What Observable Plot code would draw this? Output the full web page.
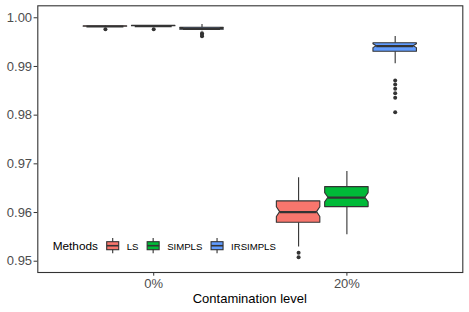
<!DOCTYPE html>
<html><head><meta charset="utf-8">
<script src="https://cdn.jsdelivr.net/npm/d3@7"></script>
<script src="https://cdn.jsdelivr.net/npm/@observablehq/plot@0.6"></script>
<style>body{margin:0;background:#fff} svg{display:block}</style>
</head><body><div id="chart"></div>
<script>
// ---- data ----
const levels = ["0%", "20%"];
const methods = ["LS", "SIMPLS", "IRSIMPLS"];
const methodColors = ["#F8766D", "#00BA38", "#619CFF"];
const yTicks = [0.95, 0.96, 0.97, 0.98, 0.99, 1.00];

// one entry per box: level-major, method-minor
const groupLevel  = ["0%", "0%", "0%", "20%", "20%", "20%"];
const groupMethod = ["LS", "SIMPLS", "IRSIMPLS", "LS", "SIMPLS", "IRSIMPLS"];
const whiskerLow  = [0.99808, 0.99818, 0.99735, 0.95290, 0.95544, 0.99055];
const q1          = [0.99816, 0.99825, 0.99755, 0.95791, 0.96111, 0.99302];
const median      = [0.99821, 0.99830, 0.99774, 0.96008, 0.96304, 0.99417];
const q3          = [0.99826, 0.99835, 0.99795, 0.96228, 0.96522, 0.99478];
const whiskerHigh = [0.99834, 0.99842, 0.99862, 0.96715, 0.96844, 0.99616];
const sampleSize  = 47;

const outlierLevel  = ["0%", "0%", "0%", "0%", "0%", "20%", "20%", "20%", "20%", "20%", "20%", "20%", "20%"];
const outlierMethod = ["LS", "SIMPLS", "IRSIMPLS", "IRSIMPLS", "IRSIMPLS", "LS", "LS",
                       "IRSIMPLS", "IRSIMPLS", "IRSIMPLS", "IRSIMPLS", "IRSIMPLS", "IRSIMPLS"];
const outlierValue  = [0.99762, 0.99762, 0.99680, 0.99652, 0.99622, 0.95175, 0.95080,
                       0.98712, 0.98630, 0.98542, 0.98452, 0.98357, 0.98062];

// ---- layout in data units (like ggplot's dodge) ----
const dodge = 0.25, boxHalf = 0.1125, notchIndent = 0.075;
const xPos = (lev, m) => levels.indexOf(lev) + 1 + (methods.indexOf(m) - 1) * dodge;

const boxes = groupLevel.map((lev, i) => {
  const xc = xPos(lev, groupMethod[i]);
  const iqr = q3[i] - q1[i];
  const notch = 1.58 * iqr / Math.sqrt(sampleSize);
  return {
    key: lev + groupMethod[i], method: groupMethod[i], xc,
    xl: xc - boxHalf, xr: xc + boxHalf,
    ml: xc - boxHalf + notchIndent * 2 * boxHalf, mr: xc + boxHalf - notchIndent * 2 * boxHalf,
    lo: whiskerLow[i], q1: q1[i], med: median[i], q3: q3[i], hi: whiskerHigh[i],
    nlo: median[i] - notch, nhi: median[i] + notch
  };
});
const boxOutline = boxes.flatMap(b => [
  {key: b.key, method: b.method, y: b.q1,  x1: b.xl, x2: b.xr},
  {key: b.key, method: b.method, y: b.nlo, x1: b.xl, x2: b.xr},
  {key: b.key, method: b.method, y: b.med, x1: b.ml, x2: b.mr},
  {key: b.key, method: b.method, y: b.nhi, x1: b.xl, x2: b.xr},
  {key: b.key, method: b.method, y: b.q3,  x1: b.xl, x2: b.xr}
]);
const outliers = outlierValue.map((v, i) => ({x: xPos(outlierLevel[i], outlierMethod[i]), y: v}));

const ink = "#333333";
const plot = Plot.plot({
  width: 469, height: 312,
  marginLeft: 37.3, marginRight: 6.7, marginTop: 5.3, marginBottom: 40,
  style: {fontFamily: "'Liberation Sans', Arial, sans-serif", fontSize: "13px", background: "#fff"},
  x: {domain: [0.4, 2.6]},
  y: {domain: [0.94768, 1.00246]},
  color: {domain: methods, range: methodColors},
  marks: [
    Plot.dot(outliers, {x: "x", y: "y", r: 2, fill: ink, stroke: null}),
    Plot.ruleX(boxes, {x: "xc", y1: "lo", y2: "q1", stroke: ink, strokeWidth: 1.1}),
    Plot.ruleX(boxes, {x: "xc", y1: "q3", y2: "hi", stroke: ink, strokeWidth: 1.1}),
    Plot.areaX(boxOutline, {y: "y", x1: "x1", x2: "x2", z: "key", fill: "method", stroke: ink, strokeWidth: 1.1, curve: "linear"}),
    Plot.ruleY(boxes, {y: "med", x1: "ml", x2: "mr", stroke: ink, strokeWidth: 2.2}),
    Plot.axisY(yTicks, {tickFormat: d3.format(".2f"), tickSize: 3.7, tickPadding: 2, label: null}),
    Plot.axisX([1, 2], {tickFormat: d => levels[d - 1], tickSize: 3.7, tickPadding: 2.3, label: null}),
    Plot.frame({stroke: ink, strokeWidth: 1.1})
  ]
});
document.getElementById("chart").appendChild(plot);

const svg = d3.select(plot);
svg.selectAll('g[aria-label$="tick label"]').attr("fill", "#4D4D4D");
svg.selectAll('g[aria-label$="-axis tick"]').attr("stroke", ink);

// axis title
svg.append("text").attr("x", 249.8).attr("y", 303).attr("text-anchor", "middle")
  .attr("font-size", 13).attr("fill", "#000").text("Contamination level");

// legend (inside panel, bottom-left)
const color = plot.scale("color");
const lg = svg.append("g").attr("font-family", "'Liberation Sans', Arial, sans-serif").attr("text-anchor", "start");
lg.append("text").attr("x", 52.7).attr("y", 250).attr("font-size", 11.8).attr("fill", "#000").text("Methods");
let kx = 106.7;
methods.forEach(m => {
  const g = lg.append("g");
  g.append("line").attr("x1", kx + 6).attr("x2", kx + 6).attr("y1", 238).attr("y2", 253.3).attr("stroke", ink).attr("stroke-width", 1.1);
  g.append("rect").attr("x", kx).attr("y", 241.7).attr("width", 12).attr("height", 8)
    .attr("fill", color.apply(m)).attr("stroke", ink).attr("stroke-width", 1.1);
  g.append("line").attr("x1", kx).attr("x2", kx + 12).attr("y1", 245.7).attr("y2", 245.7).attr("stroke", ink).attr("stroke-width", 1.6);
  const t = g.append("text").attr("x", kx + 20).attr("y", 250).attr("font-size", 9.6).attr("fill", "#000").text(m);
  kx = kx + 20 + t.node().getComputedTextLength() + 8.7;
});
</script>
</body></html>
